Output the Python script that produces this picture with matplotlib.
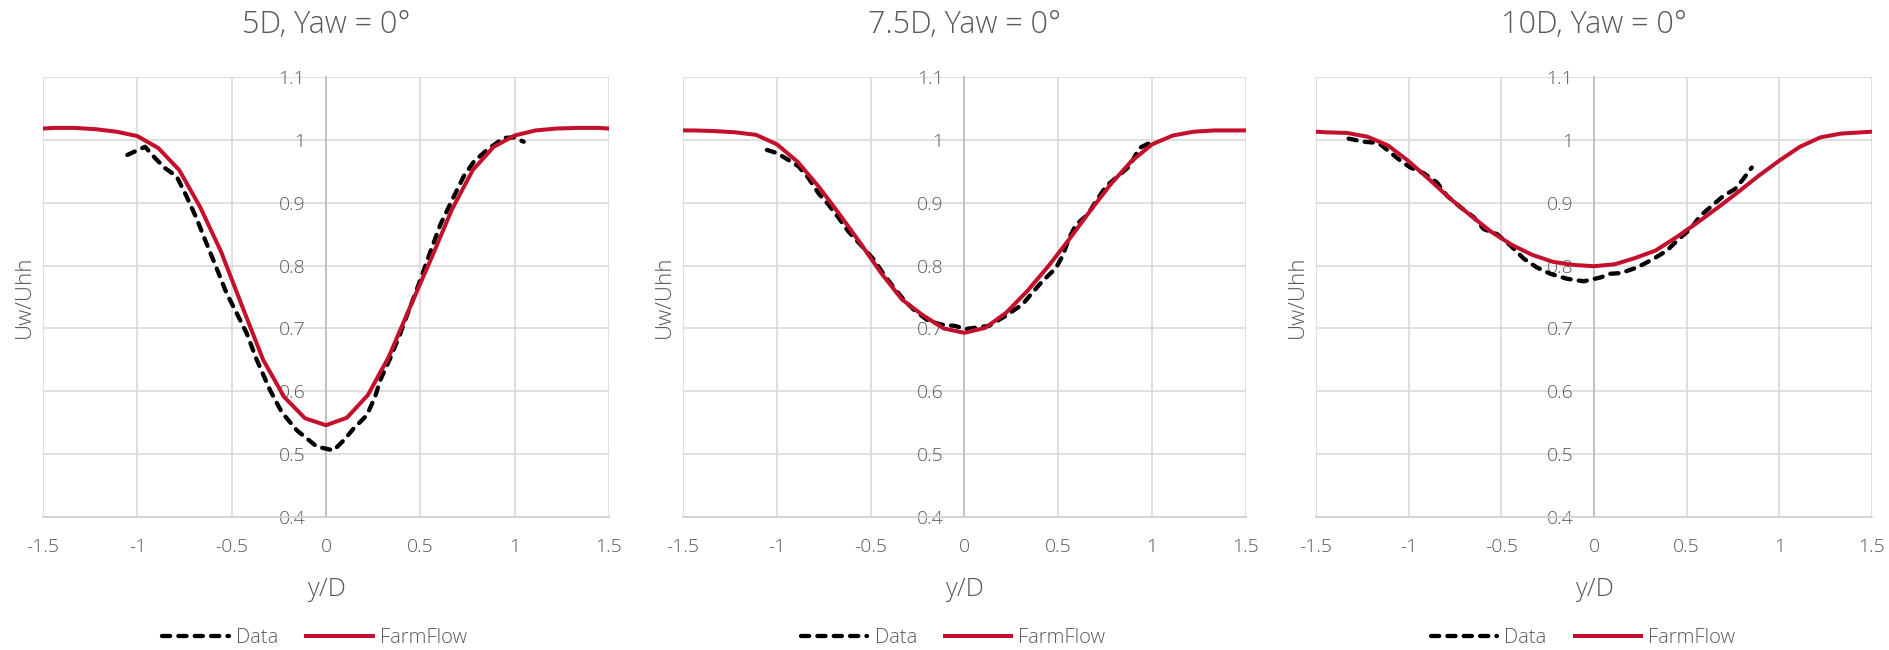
import matplotlib
matplotlib.use("Agg")
import matplotlib.pyplot as plt
from matplotlib import font_manager

# ---- data -----------------------------------------------------------------
titles = ["5D, Yaw = 0°", "7.5D, Yaw = 0°", "10D, Yaw = 0°"]

model_y = [-1.5, -1.444, -1.333, -1.222, -1.111, -1.0, -0.889, -0.778, -0.667,
           -0.556, -0.444, -0.333, -0.222, -0.111, 0.0, 0.111, 0.222, 0.333,
           0.444, 0.556, 0.667, 0.778, 0.889, 1.0, 1.111, 1.222, 1.333, 1.444, 1.5]

farmflow_5d = [1.018, 1.019, 1.019, 1.017, 1.013, 1.006, 0.987, 0.952, 0.893,
               0.822, 0.735, 0.650, 0.591, 0.557, 0.546, 0.558, 0.594, 0.655,
               0.733, 0.810, 0.889, 0.952, 0.989, 1.007, 1.015, 1.018, 1.019,
               1.019, 1.018]
farmflow_75d = [1.015, 1.015, 1.014, 1.012, 1.008, 0.993, 0.965, 0.926, 0.882,
                0.836, 0.788, 0.746, 0.721, 0.700, 0.693, 0.701, 0.725, 0.759,
                0.798, 0.841, 0.886, 0.929, 0.966, 0.993, 1.007, 1.013, 1.015,
                1.015, 1.015]
farmflow_10d = [1.013, 1.012, 1.011, 1.005, 0.991, 0.966, 0.937, 0.907, 0.880,
                0.854, 0.833, 0.817, 0.806, 0.801, 0.799, 0.802, 0.812, 0.824,
                0.845, 0.868, 0.892, 0.917, 0.943, 0.967, 0.989, 1.004, 1.010,
                1.012, 1.013]

data_5d_y = [-1.053, -0.959, -0.906, -0.853, -0.792, -0.739, -0.686, -0.633,
             -0.580, -0.527, -0.473, -0.420, -0.367, -0.297, -0.235, -0.155,
             -0.049, 0.040, 0.094, 0.147, 0.217, 0.261, 0.288, 0.341, 0.394,
             0.447, 0.500, 0.553, 0.606, 0.668, 0.730, 0.783, 0.853, 0.942,
             0.995, 1.048]
data_5d_u = [0.976, 0.989, 0.971, 0.955, 0.942, 0.910, 0.875, 0.835, 0.796,
             0.756, 0.724, 0.692, 0.650, 0.602, 0.567, 0.538, 0.512, 0.506,
             0.522, 0.541, 0.562, 0.592, 0.618, 0.653, 0.692, 0.735, 0.777,
             0.822, 0.865, 0.904, 0.942, 0.965, 0.984, 1.003, 1.004, 0.997]

data_75d_y = [-1.053, -1.0, -0.938, -0.885, -0.831, -0.778, -0.725, -0.671,
              -0.618, -0.547, -0.485, -0.423, -0.369, -0.316, -0.263, -0.192,
              -0.121, -0.050, 0.004, 0.130, 0.219, 0.308, 0.362, 0.415, 0.487,
              0.522, 0.558, 0.594, 0.656, 0.700, 0.754, 0.825, 0.879, 0.932,
              0.986]
data_75d_u = [0.984, 0.979, 0.968, 0.958, 0.939, 0.915, 0.897, 0.876, 0.854,
              0.831, 0.810, 0.783, 0.762, 0.743, 0.728, 0.712, 0.706, 0.704,
              0.699, 0.704, 0.720, 0.738, 0.757, 0.775, 0.796, 0.815, 0.844,
              0.865, 0.881, 0.902, 0.926, 0.944, 0.958, 0.987, 0.995]

data_10d_y = [-1.324, -1.243, -1.162, -1.099, -1.045, -0.991, -0.919, -0.847,
              -0.793, -0.721, -0.649, -0.595, -0.523, -0.451, -0.379, -0.308,
              -0.236, -0.146, -0.056, 0.034, 0.088, 0.143, 0.233, 0.323, 0.394,
              0.457, 0.520, 0.573, 0.636, 0.699, 0.762, 0.806, 0.851]
data_10d_u = [1.002, 0.997, 0.995, 0.980, 0.967, 0.956, 0.947, 0.932, 0.911,
              0.893, 0.877, 0.858, 0.850, 0.832, 0.811, 0.797, 0.787, 0.779,
              0.775, 0.781, 0.787, 0.788, 0.797, 0.811, 0.824, 0.842, 0.858,
              0.879, 0.895, 0.911, 0.922, 0.938, 0.956]

x_ticks = [-1.5, -1, -0.5, 0, 0.5, 1, 1.5]
x_tick_labels = ["-1.5", "-1", "-0.5", "0", "0.5", "1", "1.5"]
y_ticks = [0.4, 0.5, 0.6, 0.7, 0.8, 0.9, 1.0, 1.1]
y_tick_labels = ["0.4", "0.5", "0.6", "0.7", "0.8", "0.9", "1", "1.1"]

panels = [
    (titles[0], data_5d_y, data_5d_u, farmflow_5d),
    (titles[1], data_75d_y, data_75d_u, farmflow_75d),
    (titles[2], data_10d_y, data_10d_u, farmflow_10d),
]

# ---- style ----------------------------------------------------------------
installed = {f.name for f in font_manager.fontManager.ttflist}
family = ["Open Sans", "DejaVu Sans"] if "Open Sans" in installed else ["DejaVu Sans"]
plt.rcParams["font.family"] = family
plt.rcParams["font.weight"] = "light"

TEXT = "#595959"
GRID = "#d9d9d9"
AXIS = "#bfbfbf"
RED = "#C3112D"

fig = plt.figure(figsize=(18.9, 6.5), dpi=100)

# axes rectangles in pixels: left, right, top, bottom
rects = [(43, 609), (683, 1246), (1316, 1872)]
top_px, bot_px = 77, 517
W, H = 1890, 650

for (title, dy, du, ff), (l, r) in zip(panels, rects):
    ax = fig.add_axes([l / W, 1 - bot_px / H, (r - l) / W, (bot_px - top_px) / H])
    ax.set_xlim(-1.5, 1.5)
    ax.set_ylim(0.4, 1.1)

    ax.set_xticks(x_ticks)
    ax.set_xticklabels(x_tick_labels)
    ax.set_yticks(y_ticks)
    ax.set_yticklabels(y_tick_labels)
    ax.grid(True, color=GRID, lw=1.2, zorder=0)
    ax.set_axisbelow(True)

    for s in ("top", "right"):
        ax.spines[s].set_visible(False)
    ax.spines["left"].set_position(("data", 0))
    ax.spines["left"].set_color(AXIS)
    ax.spines["left"].set_linewidth(1.3)
    ax.spines["bottom"].set_color("#d0d0d0")
    ax.spines["bottom"].set_linewidth(1.3)

    ax.tick_params(axis="x", length=0, pad=15, labelsize=14, labelcolor=TEXT)
    ax.tick_params(axis="y", length=0, pad=15, labelsize=14, labelcolor=TEXT)
    for lab in ax.get_xticklabels() + ax.get_yticklabels():
        lab.set_fontweight("light")

    ax.plot(dy, du, color="black", lw=3.1, linestyle=(0, (1.9, 1.9)),
            dash_capstyle="round", label="Data", zorder=3)
    ax.plot(model_y, ff, color=RED, lw=2.9, solid_joinstyle="round",
            label="FarmFlow", zorder=4)

    ax_h = bot_px - top_px
    ax.text(0.5, 1 + (top_px - 25) / ax_h, title, transform=ax.transAxes,
            ha="center", va="center", fontsize=22, color=TEXT,
            fontweight="light")
    ax.text(0.5, -(590 - bot_px) / ax_h, "y/D", transform=ax.transAxes,
            ha="center", va="center", fontsize=18.5, color=TEXT,
            fontweight="light")
    ax.text(-19 / (r - l), 0.5, "Uw/Uhh", transform=ax.transAxes,
            ha="center", va="center", rotation=90, fontsize=16, color=TEXT,
            fontweight="light")

    leg = ax.legend(loc="center", bbox_to_anchor=(0.48, -(638 - bot_px) / ax_h),
                    ncol=2, frameon=False, fontsize=14.5, handlelength=3.3,
                    handletextpad=0.35, columnspacing=1.4)
    for t in leg.get_texts():
        t.set_color(TEXT)
        t.set_fontweight("light")

fig.savefig("out.png", dpi=100, facecolor="white")
